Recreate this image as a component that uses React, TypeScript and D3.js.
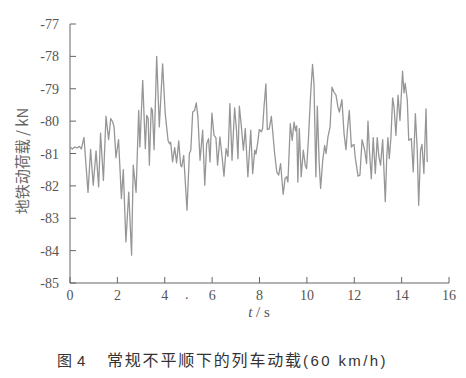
import React from "react";
import * as d3 from "d3";

const times = [
  0.0, 0.1, 0.2, 0.3, 0.4, 0.48, 0.59, 0.76, 0.87, 0.98, 1.1, 1.21, 1.29, 1.41, 1.52, 1.63, 1.72, 1.8, 1.86, 1.94,
  2.05, 2.17, 2.25, 2.36, 2.48, 2.6, 2.67, 2.79, 2.9, 2.95, 3.07, 3.18, 3.24, 3.3, 3.35, 3.43, 3.48, 3.55, 3.66, 3.77,
  3.91, 4.02, 4.14, 4.2, 4.25, 4.33, 4.42, 4.5, 4.59, 4.67, 4.72, 4.8, 4.94, 5.04, 5.1, 5.18, 5.26, 5.33, 5.4, 5.49,
  5.6, 5.69, 5.77, 5.85, 5.91, 5.99, 6.08, 6.16, 6.23, 6.33, 6.42, 6.5, 6.59, 6.67, 6.75, 6.84, 6.95, 7.03, 7.09, 7.15,
  7.23, 7.32, 7.4, 7.51, 7.63, 7.71, 7.8, 7.85, 7.93, 7.99, 8.08, 8.13, 8.19, 8.27, 8.33, 8.41, 8.5, 8.55, 8.64, 8.73,
  8.81, 8.89, 9.0, 9.08, 9.15, 9.2, 9.3, 9.38, 9.46, 9.52, 9.57, 9.62, 9.68, 9.76, 9.85, 9.93, 9.99, 10.07, 10.16, 10.24,
  10.3, 10.38, 10.44, 10.52, 10.58, 10.67, 10.75, 10.81, 10.89, 10.98, 11.06, 11.14, 11.23, 11.31, 11.37, 11.48, 11.57,
  11.65, 11.71, 11.79, 11.88, 11.93, 11.99, 12.04, 12.16, 12.24, 12.33, 12.44, 12.52, 12.58, 12.64, 12.72, 12.8, 12.89,
  12.97, 13.04, 13.11, 13.2, 13.31, 13.37, 13.42, 13.48, 13.55, 13.62, 13.68, 13.76, 13.85, 13.93, 14.04, 14.1, 14.15,
  14.24, 14.3, 14.36, 14.41, 14.49, 14.58, 14.66, 14.72, 14.8, 14.86, 14.94, 15.03, 15.08,
];

const loads = [
  -80.8, -80.86, -80.8, -80.83, -80.78, -80.86, -80.5, -82.2, -80.87, -81.98, -80.92, -82.03, -80.37, -81.83, -79.85,
  -80.57, -79.92, -80.02, -80.18, -81.13, -80.57, -82.39, -81.5, -83.73, -82.19, -84.14, -81.36, -82.2, -79.67, -80.8,
  -78.74, -80.85, -79.82, -79.92, -81.36, -79.59, -79.67, -80.88, -78.0, -80.18, -78.23, -79.77, -80.6, -80.7, -80.65,
  -81.26, -80.82, -81.29, -80.61, -81.36, -81.41, -81.06, -82.75, -81.0, -80.9, -79.72, -79.67, -79.44, -79.87, -81.21,
  -80.28, -81.98, -80.7, -80.54, -81.26, -79.75, -80.44, -80.51, -81.36, -80.49, -81.1, -81.7, -80.85, -81.09, -79.46,
  -81.21, -79.59, -80.28, -81.16, -79.54, -80.13, -80.9, -80.23, -81.72, -80.28, -81.62, -80.9, -81.02, -80.64, -80.26,
  -80.33, -80.23, -79.57, -78.85, -80.26, -80.24, -79.85, -80.26, -81.0, -81.57, -81.67, -81.31, -82.26, -81.77, -81.72,
  -81.88, -80.08, -80.6, -80.03, -80.3, -80.15, -81.88, -80.23, -81.72, -80.9, -81.36, -81.47, -80.49, -79.15, -78.25,
  -78.85, -81.72, -79.54, -81.31, -82.08, -81.21, -80.75, -81.0, -80.49, -80.18, -78.95, -79.1, -79.2, -79.56, -79.72,
  -79.34, -80.39, -80.88, -80.28, -79.67, -80.8, -80.75, -80.72, -81.11, -81.7, -81.67, -80.57, -80.9, -81.31, -80.0,
  -80.9, -81.78, -80.51, -81.62, -80.51, -81.1, -81.36, -80.57, -82.49, -81.16, -80.51, -81.16, -80.49, -79.28, -79.57,
  -80.44, -79.2, -79.98, -78.46, -79.13, -78.83, -79.36, -80.59, -80.57, -80.54, -81.57, -79.77, -80.9, -82.6, -80.9,
  -80.72, -81.62, -79.62, -81.26,
];

const xTicks = [0, 2, 4, 6, 8, 10, 12, 14, 16];
const yTicks = [-77, -78, -79, -80, -81, -82, -83, -84, -85];

const yTitle = "地铁动荷载 / kN";
const figLabel = "图";
const figNum = "4";
const caption = "常规不平顺下的列车动载";
const captionUnit = "(60 km/h)";

export default function App() {
  const x = d3.scaleLinear().domain([0, 16]).range([70, 449]);
  const y = d3.scaleLinear().domain([-85, -77]).range([283, 24]);
  const pts = times.map((t, i) => [t, loads[i]] as [number, number]);
  const line = d3
    .line<[number, number]>()
    .x((d) => x(d[0]))
    .y((d) => y(d[1]));
  const axisColor = "#666";
  const labelColor = "#555";
  const serif = "'Liberation Serif', 'DejaVu Serif', serif";
  const cjk = "'Noto Sans CJK SC', sans-serif";

  return (
    <svg
      width={466}
      height={378}
      style={{ position: "absolute", left: 0, top: 0, background: "#fff" }}
    >
      <rect x={0} y={0} width={466} height={378} fill="#fff" />
      {/* axes */}
      <line x1={x(0)} x2={x(0)} y1={y(-77)} y2={y(-85)} stroke={axisColor} strokeWidth={1} />
      <line x1={x(0)} x2={x(16)} y1={y(-85)} y2={y(-85)} stroke={axisColor} strokeWidth={1} />
      {yTicks.map((v) => (
        <g key={"y" + v}>
          <line x1={x(0)} x2={x(0) + 6} y1={y(v)} y2={y(v)} stroke={axisColor} strokeWidth={1} />
          <text
            x={59}
            y={y(v) + 5}
            textAnchor="end"
            fontFamily={serif}
            fontSize={14}
            fill={labelColor}
          >
            {v}
          </text>
        </g>
      ))}
      {xTicks.map((v) => (
        <g key={"x" + v}>
          <line x1={x(v)} x2={x(v)} y1={y(-85)} y2={y(-85) - 6} stroke={axisColor} strokeWidth={1} />
          <text
            x={x(v)}
            y={300}
            textAnchor="middle"
            fontFamily={serif}
            fontSize={14}
            fill={labelColor}
          >
            {v}
          </text>
        </g>
      ))}
      <text x={185} y={299} fontFamily={serif} fontSize={14} fill={labelColor}>
        .
      </text>
      {/* data line */}
      <path d={line(pts) || ""} fill="none" stroke="#969696" strokeWidth={1.3} strokeLinejoin="round" />
      {/* axis titles */}
      <text
        x={259}
        y={317}
        textAnchor="middle"
        fontFamily={serif}
        fontSize={15}
        fill={labelColor}
      >
        <tspan fontStyle="italic">t</tspan> / s
      </text>
      <text
        transform="translate(28,161) rotate(-90)"
        textAnchor="middle"
        fontFamily={cjk}
        fontSize={15}
        fill="#666"
      >
        {yTitle}
      </text>
      {/* caption */}
      <text x={57} y={366} fontFamily={cjk} fontSize={15} fill="#333">
        {figLabel}
      </text>
      <text x={77} y={366} fontFamily={"'Liberation Sans', Arial, sans-serif"} fontSize={15} fill="#333">
        {figNum}
      </text>
      <text x={107} y={366} fontFamily={cjk} fontSize={16} fill="#333" letterSpacing={1.8}>
        {caption}
      </text>
      <text
        x={303}
        y={366}
        fontFamily={"'Liberation Sans', Arial, sans-serif"}
        fontSize={15}
        fill="#333"
        letterSpacing={2.4}
      >
        {captionUnit}
      </text>
    </svg>
  );
}
